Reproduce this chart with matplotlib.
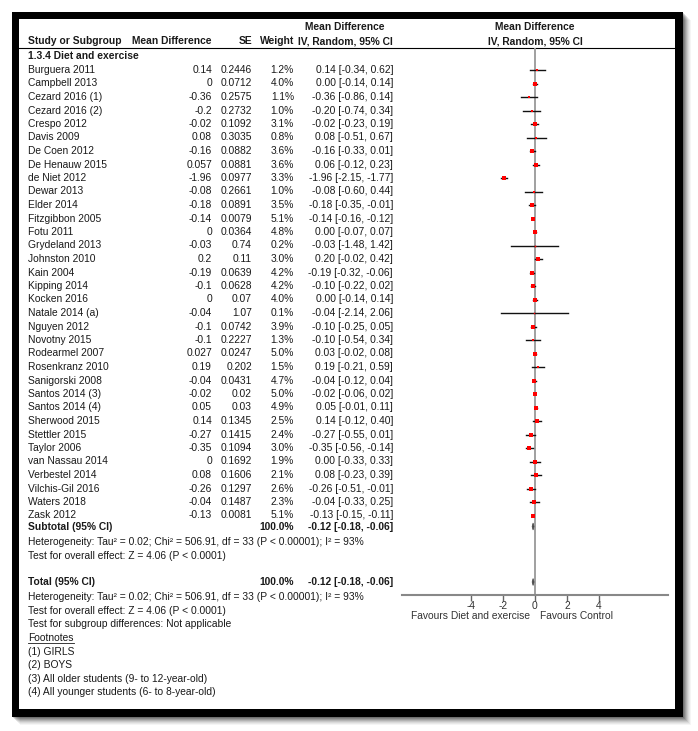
import matplotlib
matplotlib.use("Agg")
import matplotlib.pyplot as plt
from matplotlib.patches import Rectangle, Polygon

plt.rcParams['font.family'] = ['Liberation Sans', 'DejaVu Sans']

# study data
studies = ["Burguera 2011", "Campbell 2013", "Cezard 2016 (1)", "Cezard 2016 (2)", "Crespo 2012",
           "Davis 2009", "De Coen 2012", "De Henauw 2015", "de Niet 2012", "Dewar 2013",
           "Elder 2014", "Fitzgibbon 2005", "Fotu 2011", "Grydeland 2013", "Johnston 2010",
           "Kain 2004", "Kipping 2014", "Kocken 2016", "Natale 2014 (a)", "Nguyen 2012",
           "Novotny 2015", "Rodearmel 2007", "Rosenkranz 2010", "Sanigorski 2008", "Santos 2014 (3)",
           "Santos 2014 (4)", "Sherwood 2015", "Stettler 2015", "Taylor 2006", "van Nassau 2014",
           "Verbestel 2014", "Vilchis-Gil 2016", "Waters 2018", "Zask 2012"]
md = [0.14, 0, -0.36, -0.2, -0.02, 0.08, -0.16, 0.057, -1.96, -0.08,
      -0.18, -0.14, 0, -0.03, 0.2, -0.19, -0.1, 0, -0.04, -0.1,
      -0.1, 0.027, 0.19, -0.04, -0.02, 0.05, 0.14, -0.27, -0.35, 0,
      0.08, -0.26, -0.04, -0.13]
se = [0.2446, 0.0712, 0.2575, 0.2732, 0.1092, 0.3035, 0.0882, 0.0881, 0.0977, 0.2661,
      0.0891, 0.0079, 0.0364, 0.74, 0.11, 0.0639, 0.0628, 0.07, 1.07, 0.0742,
      0.2227, 0.0247, 0.202, 0.0431, 0.02, 0.03, 0.1345, 0.1415, 0.1094, 0.1692,
      0.1606, 0.1297, 0.1487, 0.0081]
weight = [1.2, 4.0, 1.1, 1.0, 3.1, 0.8, 3.6, 3.6, 3.3, 1.0,
          3.5, 5.1, 4.8, 0.2, 3.0, 4.2, 4.2, 4.0, 0.1, 3.9,
          1.3, 5.0, 1.5, 4.7, 5.0, 4.9, 2.5, 2.4, 3.0, 1.9,
          2.1, 2.6, 2.3, 5.1]
ci_lo = [-0.34, -0.14, -0.86, -0.74, -0.23, -0.51, -0.33, -0.12, -2.15, -0.60,
         -0.35, -0.16, -0.07, -1.48, -0.02, -0.32, -0.22, -0.14, -2.14, -0.25,
         -0.54, -0.02, -0.21, -0.12, -0.06, -0.01, -0.12, -0.55, -0.56, -0.33,
         -0.23, -0.51, -0.33, -0.15]
ci_hi = [0.62, 0.14, 0.14, 0.34, 0.19, 0.67, 0.01, 0.23, -1.77, 0.44,
         -0.01, -0.12, 0.07, 1.42, 0.42, -0.06, 0.02, 0.14, 2.06, 0.05,
         0.34, 0.08, 0.59, 0.04, 0.02, 0.11, 0.40, 0.01, -0.14, 0.33,
         0.39, -0.01, 0.25, -0.11]

pooled = -0.12
pooled_lo = -0.18
pooled_hi = -0.06
het_text = "Heterogeneity: Tau\u00b2 = 0.02; Chi\u00b2 = 506.91, df = 33 (P < 0.00001); I\u00b2 = 93%"
effect_text = "Test for overall effect: Z = 4.06 (P < 0.0001)"
footnotes = ["(1) GIRLS", "(2) BOYS", "(3) All older students (9- to 12-year-old)",
             "(4) All younger students (6- to 8-year-old)"]
ticks = [-4, -2, 0, 2, 4]

W, H = 698, 731
fig = plt.figure(figsize=(W / 100, H / 100), dpi=100)
bg = fig.add_axes([0, 0, 1, 1])
bg.set_xlim(0, W)
bg.set_ylim(H, 0)
bg.axis("off")

# frame with a soft shadow
for k, a in zip(range(8, 0, -1), [0.04, 0.05, 0.06, 0.08, 0.1, 0.12, 0.14, 0.16]):
    bg.add_patch(Rectangle((12 + k, 12 + k), 671, 705, color="black", alpha=a, lw=0))
bg.add_patch(Rectangle((12, 12), 671, 705, color="black", lw=0))
bg.add_patch(Rectangle((19, 19), 656, 690, color="white", lw=0))

fs = 7.4
tc = "#1a1a1a"
x_study, x_md, x_se, x_w, x_ci, x_hdr = 28, 212, 252, 294, 393, 345
row0, dy = 70, 13.5

# header
bg.text(x_hdr, 27, "Mean Difference", fontsize=fs, weight="bold", ha="center", va="center", color=tc)
bg.text(535, 27, "Mean Difference", fontsize=fs, weight="bold", ha="center", va="center", color=tc)
for x, s, ha in [(x_study, "Study or Subgroup", "left"), (x_md, "Mean Difference", "right"),
                 (x_se, "SE", "right"), (x_w, "Weight", "right"),
                 (x_hdr, "IV, Random, 95% CI", "center"), (535, "IV, Random, 95% CI", "center")]:
    bg.text(x, 41, s, fontsize=fs, weight="bold", ha=ha, va="center", color=tc)
bg.plot([19, 675], [48, 48], color="black", lw=0.8)
bg.text(x_study, 56, "1.3.4 Diet and exercise", fontsize=fs, weight="bold", va="center", color=tc)

ys = [row0 + dy * i for i in range(len(studies))]
for i, y in enumerate(ys):
    bg.text(x_study, y, studies[i], fontsize=fs, va="center", color=tc)
    bg.text(x_md, y, f"{md[i]:g}", fontsize=fs, ha="right", va="center", color=tc)
    bg.text(x_se, y, f"{se[i]:g}", fontsize=fs, ha="right", va="center", color=tc)
    bg.text(x_w, y, f"{weight[i]:.1f}%", fontsize=fs, ha="right", va="center", color=tc)
    bg.text(x_ci, y, f"{md[i]:.2f} [{ci_lo[i]:.2f}, {ci_hi[i]:.2f}]", fontsize=fs,
            ha="right", va="center", color=tc)

y_sub = ys[-1] + 11
y_tot = 582
sum_txt = f"{pooled:.2f} [{pooled_lo:.2f}, {pooled_hi:.2f}]"
for y, lab in [(y_sub, "Subtotal (95% CI)"), (y_tot, "Total (95% CI)")]:
    bg.text(x_study, y, lab, fontsize=fs, weight="bold", va="center", color=tc)
    bg.text(x_w, y, "100.0%", fontsize=fs, weight="bold", ha="right", va="center", color=tc)
    bg.text(x_ci, y, sum_txt, fontsize=fs, weight="bold", ha="right", va="center", color=tc)

lines_after = [(542, het_text), (556, effect_text), (597, het_text), (611, effect_text),
               (624, "Test for subgroup differences: Not applicable"), (638, "Footnotes")]
for y, s in lines_after:
    bg.text(x_study, y, s, fontsize=fs, va="center", color=tc)
bg.plot([28, 74], [643, 643], color=tc, lw=0.6)
for j, s in enumerate(footnotes):
    bg.text(x_study, 652 + 13.4 * j, s, fontsize=fs, va="center", color=tc)

bg.text(530, 616, "Favours Diet and exercise", fontsize=fs, ha="right", va="center", color="#333")
bg.text(540, 616, "Favours Control", fontsize=fs, ha="left", va="center", color="#333")

# forest panel, y in pixel rows so it lines up with the table
ax = fig.add_axes([402 / W, 1 - 595 / H, 266 / W, (595 - 48) / H])
ax.set_xlim(-8.3, 8.3)
ax.set_ylim(595, 48)
ax.patch.set_alpha(0)
for s in ["top", "left", "right"]:
    ax.spines[s].set_visible(False)
ax.spines["bottom"].set_color("#888")
ax.spines["bottom"].set_linewidth(1.5)
ax.set_yticks([])
ax.set_xticks(ticks)
ax.set_xticklabels([str(t) for t in ticks], fontsize=fs, color="#333")
ax.tick_params(axis="x", length=4, width=1, color="#666", pad=0.5)
ax.axvline(0, color="#999", lw=1.3, zorder=1)

for i, y in enumerate(ys):
    ax.plot([ci_lo[i], ci_hi[i]], [y, y], color="#111", lw=1.0, zorder=2)
    ax.plot(md[i], y, marker="s", color="#ff0000", ms=0.6 + 1.2 * weight[i] ** 0.5, mew=0, zorder=3)

for y in [y_sub, y_tot]:
    ax.add_patch(Polygon([(pooled_lo, y), (pooled, y - 3.5), (pooled_hi, y), (pooled, y + 3.5)],
                         closed=True, color="#444", lw=0.5, zorder=3))

fig.savefig("out.png", dpi=100)
